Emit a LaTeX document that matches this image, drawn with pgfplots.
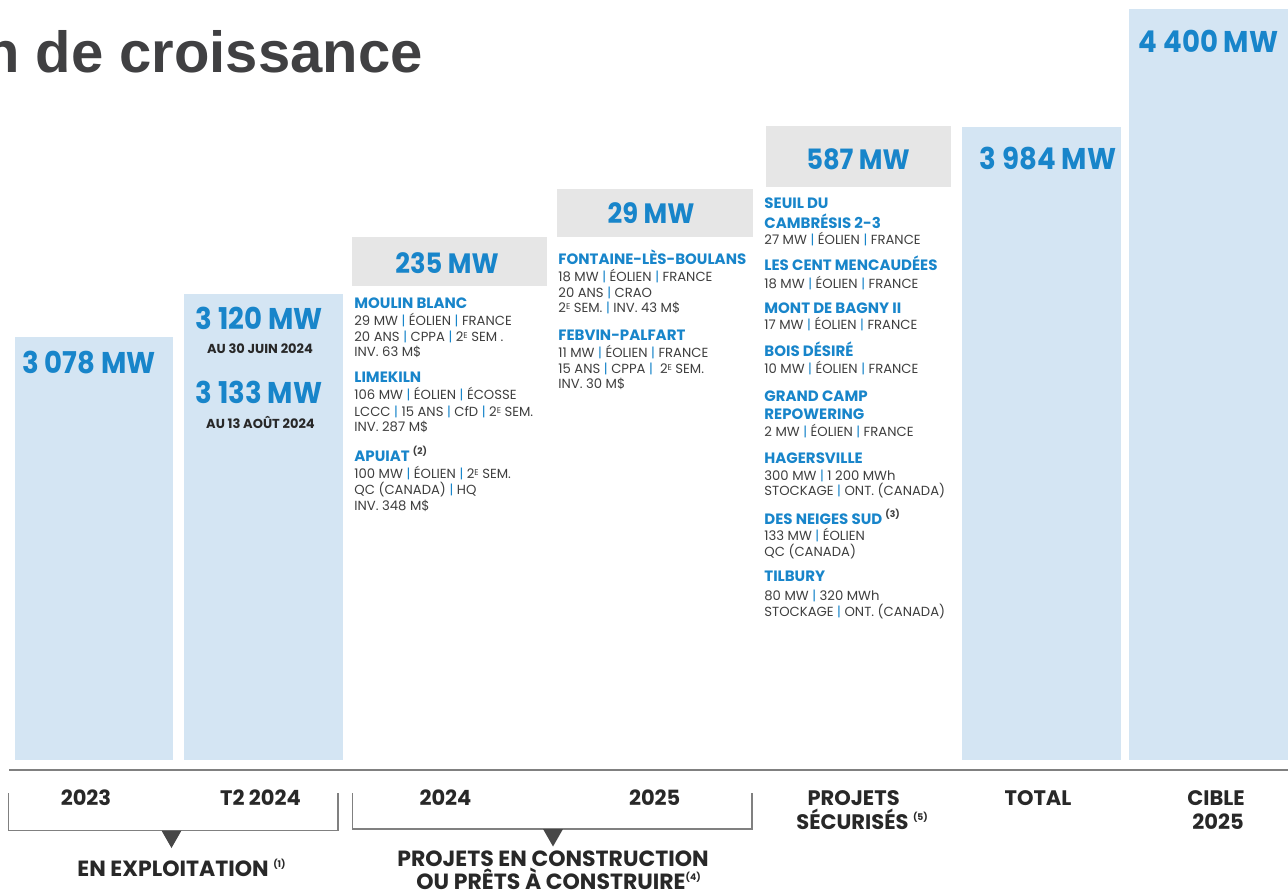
\documentclass[border=0pt]{standalone}
\usepackage{pgfplots}
\pgfplotsset{compat=1.18}
\usepackage{fontspec}
\setmainfont{Poppins}
\newfontfamily\arialb{Liberation Sans}
\newfontfamily\popnar{Poppins}[FakeStretch=0.92]
\definecolor{blu}{RGB}{24,133,202}
\definecolor{lb}{RGB}{212,229,243}
\definecolor{gb}{RGB}{230,230,230}
\definecolor{dk}{RGB}{62,62,62}
\definecolor{lab}{RGB}{40,40,40}
\definecolor{ttl}{RGB}{64,64,66}
\definecolor{ln}{RGB}{128,128,128}
\newcommand\bl{\textcolor{blu}{|}}
\newcommand\E{\raisebox{0.45ex}{\fontsize{4.2}{5}\selectfont E}}
\newcommand\sups[1]{\raisebox{0.75ex}{\fontsize{4.6}{5}\selectfont (#1)}}
\tikzset{
 nm/.style={anchor=base west,inner sep=0,font=\fontsize{7.5}{9}\selectfont\bfseries,text=blu},
 dt/.style={anchor=base west,inner sep=0,font=\fontsize{6.6}{8}\selectfont,text=dk},
 big/.style={anchor=base,inner sep=0,font=\popnar\fontsize{15}{18}\selectfont\bfseries,text=blu},
 gbig/.style={anchor=base,inner sep=0,font=\popnar\fontsize{14}{17}\selectfont\bfseries,text=blu},
 au/.style={anchor=base,inner sep=0,font=\fontsize{6.5}{7}\selectfont\bfseries,text=lab},
 cat/.style={anchor=base,inner sep=0,font=\fontsize{10.5}{12}\selectfont\bfseries,text=lab},
 grp/.style={anchor=base,inner sep=0,font=\fontsize{11}{12}\selectfont\bfseries,text=lab},
}
\begin{document}
\begin{tikzpicture}
\begin{axis}[
  at={(0pt,0pt)}, anchor=south west,
  scale only axis, width=644pt, height=447.5pt,
  xmin=0, xmax=1288, ymin=0, ymax=895,
  hide axis, clip=false,
]
% bars: (left, right, bottom, top)
\addplot[fill=lb, draw=none] coordinates {(15,135) (173.3,135) (173.3,558.3) (15,558.3)} --cycle;
\addplot[fill=lb, draw=none] coordinates {(184,135) (343.3,135) (343.3,601) (184,601)} --cycle;
\addplot[fill=gb, draw=none] coordinates {(352.3,609) (546.7,609) (546.7,657.7) (352.3,657.7)} --cycle;
\addplot[fill=gb, draw=none] coordinates {(556.7,657.7) (753.3,657.7) (753.3,705.7) (556.7,705.7)} --cycle;
\addplot[fill=gb, draw=none] coordinates {(766,708.3) (951,708.3) (951,769) (766,769)} --cycle;
\addplot[fill=lb, draw=none] coordinates {(961.7,135) (1120.7,135) (1120.7,768.3) (961.7,768.3)} --cycle;
\addplot[fill=lb, draw=none] coordinates {(1129.3,135) (1288,135) (1288,886) (1129.3,886)} --cycle;

% baseline
\draw[ln, line width=1pt] (axis cs:9,125) -- (axis cs:1288,125);
% brackets
\draw[ln, line width=0.6pt] (axis cs:8.3,102) -- (axis cs:8.3,64.5) -- (axis cs:338,64.5) -- (axis cs:338,102);
\draw[ln, line width=0.6pt] (axis cs:352.7,102) -- (axis cs:352.7,66) -- (axis cs:752,66) -- (axis cs:752,102);
\fill[black!72] (axis cs:161.5,64.5) -- (axis cs:181.5,64.5) -- (axis cs:171.5,47) -- cycle;
\fill[black!72] (axis cs:543,66) -- (axis cs:563,66) -- (axis cs:553,48.5) -- cycle;

% title
\node[anchor=base east, inner sep=0, font=\arialb\fontsize{29}{32}\selectfont\bfseries, text=ttl] at (axis cs:423,822.3) {n de croissance};

% big values
\node[big] at (axis cs:89,521.7) {3 078 MW};
\node[big] at (axis cs:259,565) {3 120 MW};
\node[au]  at (axis cs:260,541) {AU 30 JUIN 2024};
\node[big] at (axis cs:259,491.7) {3 133 MW};
\node[au]  at (axis cs:260.5,466.7) {AU 13 AOÛT 2024};
\node[gbig] at (axis cs:447,621.7) {235 MW};
\node[gbig] at (axis cs:651,671.7) {29 MW};
\node[gbig] at (axis cs:858,725.7) {587 MW};
\node[big] at (axis cs:1048,725) {3 984 MW};
\node[big] at (axis cs:1208.5,842.3) {4 400 MW};

% block 1
\node[nm] at (axis cs:354,586.3) {MOULIN BLANC};
\node[dt] at (axis cs:354,569) {29 MW \bl{} ÉOLIEN \bl{} FRANCE};
\node[dt] at (axis cs:354,553.3) {20 ANS \bl{} CPPA \bl{} 2\E{} SEM .};
\node[dt] at (axis cs:354,538) {INV. 63 M\$};
\node[nm] at (axis cs:354,512) {LIMEKILN};
\node[dt] at (axis cs:354,495) {106 MW \bl{} ÉOLIEN \bl{} ÉCOSSE};
\node[dt] at (axis cs:354,478.3) {LCCC \bl{} 15 ANS \bl{} CfD \bl{} 2\E{} SEM.};
\node[dt] at (axis cs:354,463.3) {INV. 287 M\$};
\node[nm] at (axis cs:354,434) {APUIAT \textcolor{dk}{\sups{2}}};
\node[dt] at (axis cs:354,416.7) {100 MW \bl{} ÉOLIEN \bl{} 2\E{} SEM.};
\node[dt] at (axis cs:354,401) {QC (CANADA) \bl{} HQ};
\node[dt] at (axis cs:354,384.3) {INV. 348 M\$};

% block 2
\node[nm] at (axis cs:558,630) {FONTAINE-LÈS-BOULANS};
\node[dt] at (axis cs:558,613.3) {18 MW \bl{} ÉOLIEN \bl{} FRANCE};
\node[dt] at (axis cs:558,597.7) {20 ANS \bl{} CRAO};
\node[dt] at (axis cs:558,582) {2\E{} SEM. \bl{} INV. 43 M\$};
\node[nm] at (axis cs:558,554.3) {FEBVIN-PALFART};
\node[dt] at (axis cs:558,537.3) {11 MW \bl{} ÉOLIEN \bl{} FRANCE};
\node[dt] at (axis cs:558,521.7) {15 ANS \bl{} CPPA \bl{}\ \ 2\E{} SEM.};
\node[dt] at (axis cs:558,506) {INV. 30 M\$};

% block 3
\node[nm] at (axis cs:764,686.7) {SEUIL DU};
\node[nm] at (axis cs:764,666.7) {CAMBRÉSIS 2-3};
\node[dt] at (axis cs:764,650) {27 MW \bl{} ÉOLIEN \bl{} FRANCE};
\node[nm] at (axis cs:764,624) {LES CENT MENCAUDÉES};
\node[dt] at (axis cs:764,606.7) {18 MW \bl{} ÉOLIEN \bl{} FRANCE};
\node[nm] at (axis cs:764,581) {MONT DE BAGNY II};
\node[dt] at (axis cs:764,565) {17 MW \bl{} ÉOLIEN \bl{} FRANCE};
\node[nm] at (axis cs:764,538.3) {BOIS DÉSIRÉ};
\node[dt] at (axis cs:764,521.7) {10 MW \bl{} ÉOLIEN \bl{} FRANCE};
\node[nm] at (axis cs:764,493.3) {GRAND CAMP};
\node[nm] at (axis cs:764,475) {REPOWERING};
\node[dt] at (axis cs:764,458.3) {2 MW \bl{} ÉOLIEN \bl{} FRANCE};
\node[nm] at (axis cs:764,431.7) {HAGERSVILLE};
\node[dt] at (axis cs:764,415) {300 MW \bl{} 1 200 MWh};
\node[dt] at (axis cs:764,399.7) {STOCKAGE \bl{} ONT. (CANADA)};
\node[nm] at (axis cs:764,371) {DES NEIGES SUD \textcolor{dk}{\sups{3}}};
\node[dt] at (axis cs:764,354.3) {133 MW \bl{} ÉOLIEN};
\node[dt] at (axis cs:764,338.3) {QC (CANADA)};
\node[nm] at (axis cs:764,313.3) {TILBURY};
\node[dt] at (axis cs:764,295) {80 MW \bl{} 320 MWh};
\node[dt] at (axis cs:764,279) {STOCKAGE \bl{} ONT. (CANADA)};

% category labels
\node[cat] at (axis cs:86,90) {2023};
\node[cat] at (axis cs:260.5,90) {T2 2024};
\node[cat] at (axis cs:445.5,90) {2024};
\node[cat] at (axis cs:654.7,90) {2025};
\node[cat] at (axis cs:853.6,90) {PROJETS};
\node[cat, anchor=base west] at (axis cs:796,66) {SÉCURISÉS \sups{5}};
\node[cat] at (axis cs:1038,90) {TOTAL};
\node[cat] at (axis cs:1216,90) {CIBLE};
\node[cat] at (axis cs:1218,66) {2025};
\node[grp, anchor=base west] at (axis cs:77,18.3) {EN EXPLOITATION \sups{1}};
\node[grp] at (axis cs:553,29) {PROJETS EN CONSTRUCTION};
\node[grp, anchor=base west] at (axis cs:416,5.5) {OU PRÊTS À CONSTRUIRE\sups{4}};
\end{axis}
\pgfresetboundingbox
\useasboundingbox (0pt,0pt) rectangle (644pt,447.5pt);
\end{tikzpicture}
\end{document}
